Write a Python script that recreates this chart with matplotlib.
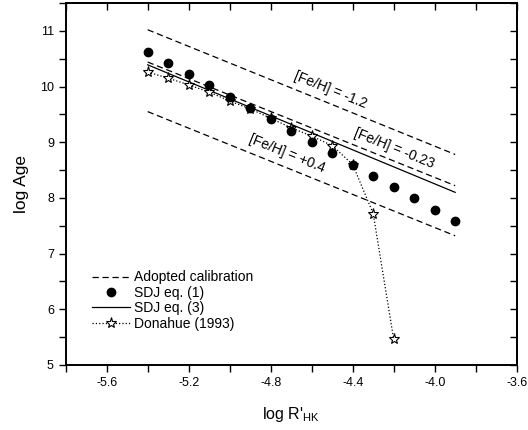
import matplotlib
matplotlib.use('Agg')
import matplotlib.pyplot as plt
from matplotlib.ticker import MultipleLocator, NullFormatter

plt.rcParams['font.family'] = ['Liberation Sans', 'DejaVu Sans']

# SDJ eq. (1) points
sdj1_x = [-5.4, -5.3, -5.2, -5.1, -5.0, -4.9, -4.8, -4.7, -4.6, -4.5, -4.4, -4.3, -4.2, -4.1, -4.0, -3.9]
sdj1_y = [10.62, 10.43, 10.23, 10.02, 9.82, 9.61, 9.41, 9.20, 9.00, 8.80, 8.60, 8.39, 8.19, 7.99, 7.78, 7.58]

# SDJ eq. (3) line
sdj3_x = [-5.4, -3.9]
sdj3_y = [10.39, 8.10]

# Adopted calibration for three metallicities
cal_x = [-5.4, -3.9]
cal_m12 = [11.02, 8.78]
cal_m023 = [10.44, 8.22]
cal_p04 = [9.55, 7.32]

# Donahue (1993)
don_x = [-5.4, -5.3, -5.2, -5.1, -5.0, -4.9, -4.8, -4.7, -4.6, -4.5, -4.4, -4.3, -4.2]
don_y = [10.26, 10.15, 10.03, 9.90, 9.74, 9.60, 9.43, 9.26, 9.11, 8.94, 8.60, 7.72, 5.46]

fig = plt.figure(figsize=(5.28, 4.30), dpi=100)
ax = fig.add_axes([0.1244, 0.1512, 0.8542, 0.8418])

ax.plot(cal_x, cal_m12, 'k--', lw=0.9, dashes=(5, 3), label='Adopted calibration')
ax.plot(sdj1_x, sdj1_y, 'ko', ms=6, ls='none', zorder=5, label='SDJ eq. (1)')
ax.plot(sdj3_x, sdj3_y, 'k-', lw=0.9, label='SDJ eq. (3)')
ax.plot(don_x, don_y, 'k:', lw=0.9, marker='*', ms=8, mfc='white', mec='black',
        mew=0.8, zorder=3, label='Donahue (1993)')
ax.plot(cal_x, cal_m023, 'k--', lw=0.9, dashes=(5, 3))
ax.plot(cal_x, cal_p04, 'k--', lw=0.9, dashes=(5, 3))

ax.text(-4.51, 9.93, '[Fe/H] = -1.2', rotation=-22, ha='center', va='center', fontsize=10)
ax.text(-4.20, 8.88, '[Fe/H] = -0.23', rotation=-22, ha='center', va='center', fontsize=10)
ax.text(-4.72, 8.80, '[Fe/H] = +0.4', rotation=-22, ha='center', va='center', fontsize=10)

ax.set_xlim(-5.8, -3.6)
ax.set_ylim(5, 11.5)
ax.xaxis.set_major_locator(MultipleLocator(0.4))
ax.xaxis.set_minor_locator(MultipleLocator(0.2))
ax.yaxis.set_major_locator(MultipleLocator(1))
ax.yaxis.set_minor_locator(MultipleLocator(0.5))
ax.xaxis.set_major_formatter(plt.FuncFormatter(lambda v, p: '%.1f' % v))
ax.tick_params(which='both', direction='out', labelsize=9, width=1, length=5)

# mirrored inward ticks on top and right
top = ax.secondary_xaxis('top')
top.xaxis.set_major_locator(MultipleLocator(0.2))
top.xaxis.set_major_formatter(NullFormatter())
top.tick_params(direction='in', length=5, width=1)
top.spines['top'].set_linewidth(1.4)
right = ax.secondary_yaxis('right')
right.yaxis.set_major_locator(MultipleLocator(0.5))
right.yaxis.set_major_formatter(NullFormatter())
right.tick_params(direction='in', length=5, width=1)
right.spines['right'].set_linewidth(1.4)

for s in ax.spines.values():
    s.set_linewidth(1.4)

ax.set_xlabel(r"log R'$_{\mathregular{HK}}$", fontsize=11.5, labelpad=12)
ax.set_ylabel('log Age', fontsize=12.5, labelpad=8)

ax.legend(loc='lower left', bbox_to_anchor=(0.043, 0.076), frameon=False, fontsize=10,
          handlelength=2.7, handletextpad=0.3, labelspacing=0.1, borderpad=0)

fig.savefig('out.png', dpi=100)
